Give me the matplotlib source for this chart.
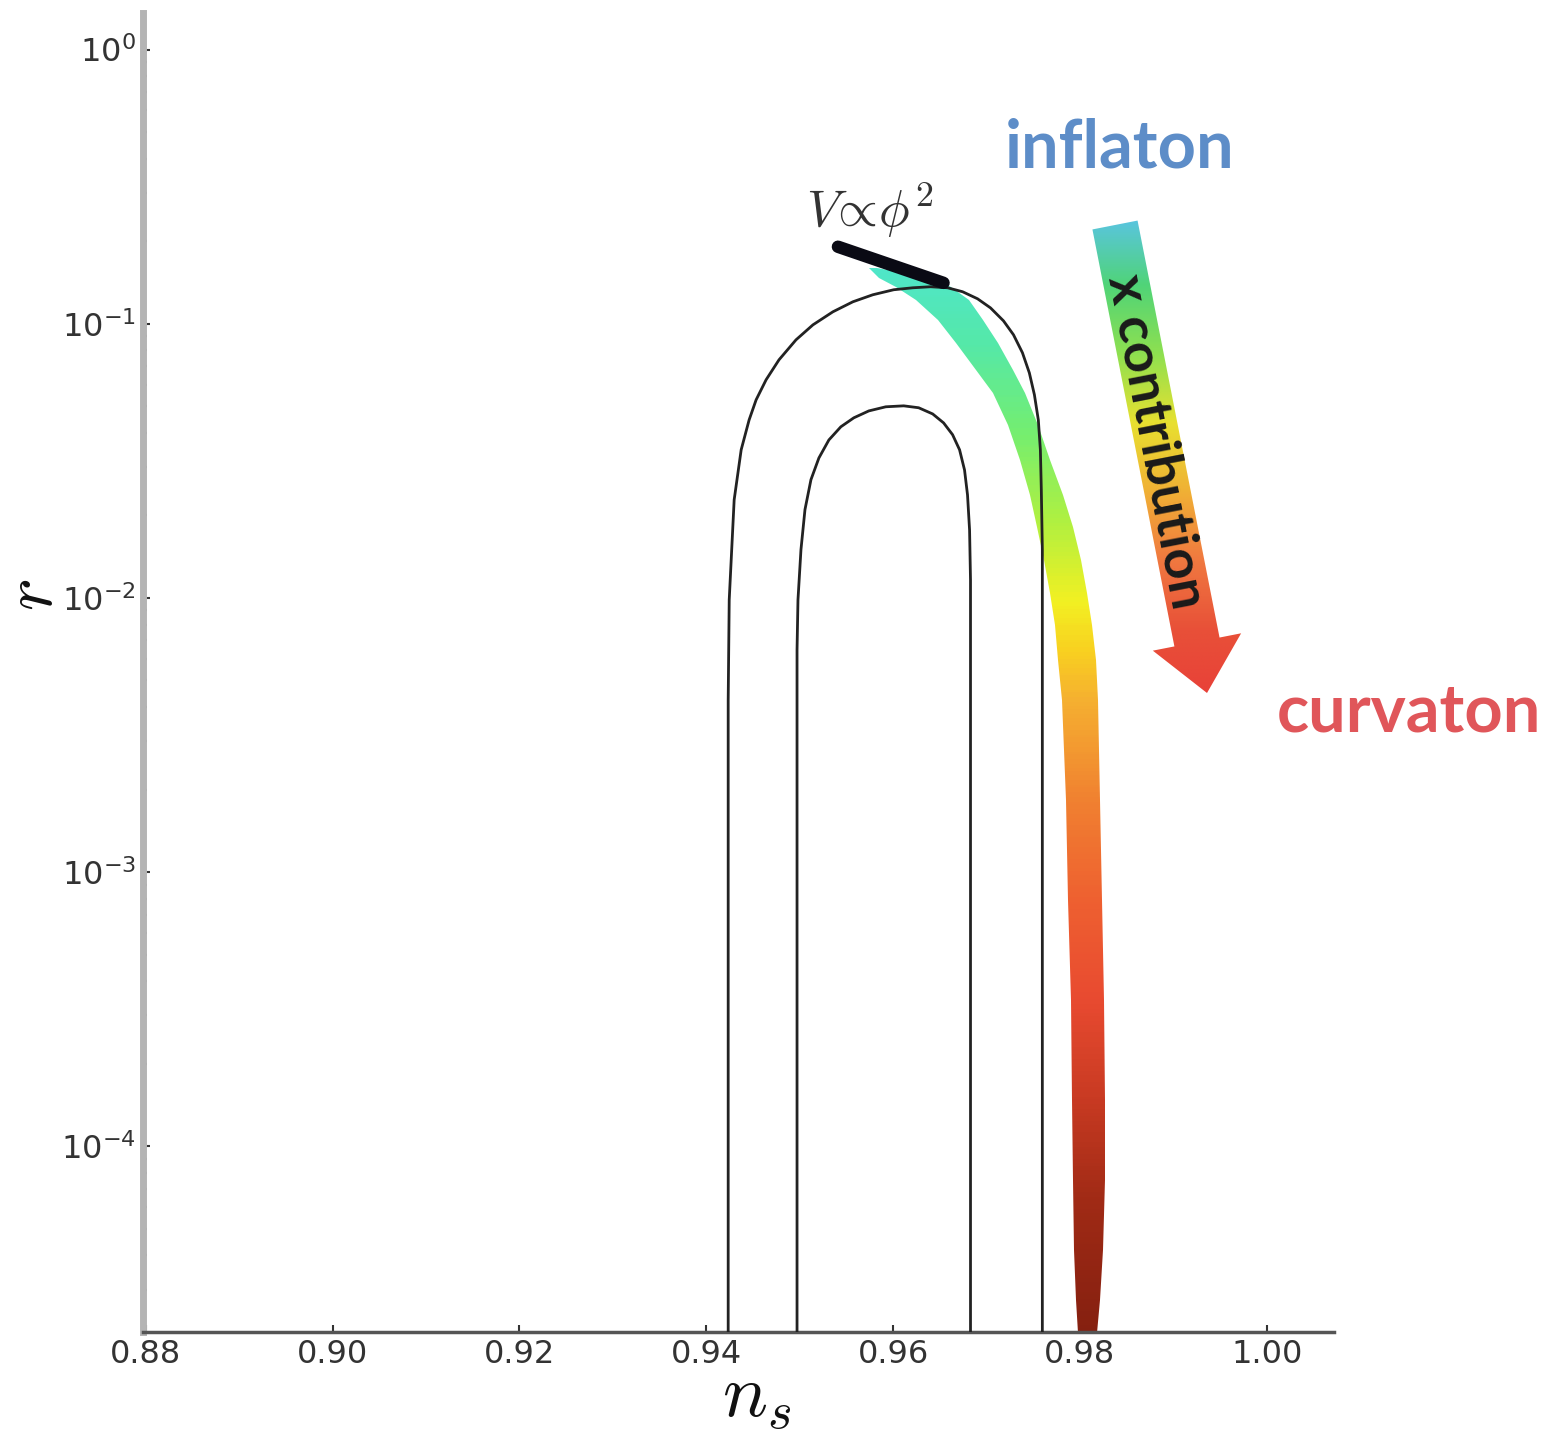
import numpy as np
import matplotlib.pyplot as plt
from matplotlib.colors import LinearSegmentedColormap
from matplotlib.patches import FancyArrow, Polygon
from matplotlib.ticker import FixedLocator, LogLocator, NullFormatter

plt.rcParams["mathtext.fontset"] = "cm"

# Observational contours in the (n_s, r) plane
OUTER_NS = [0.94235, 0.94235, 0.94246, 0.94299, 0.94374, 0.94459, 0.94534,
            0.94641, 0.94779, 0.94961, 0.95142, 0.95356, 0.95570, 0.95783,
            0.96007, 0.96210, 0.96402, 0.96584, 0.96744, 0.96904, 0.97043,
            0.97182, 0.97289, 0.97385, 0.97459, 0.97513, 0.97555, 0.97577,
            0.97587, 0.97598, 0.97598, 0.97598]
OUTER_R = [1e-5, 4.24e-3, 9.84e-3, 0.0228, 0.0347, 0.0446, 0.0528,
           0.0625, 0.0739, 0.0874, 0.0991, 0.1106, 0.1203, 0.1276,
           0.1331, 0.1353, 0.1365, 0.1353, 0.1309, 0.1234, 0.1143,
           0.1025, 0.0912, 0.0784, 0.0662, 0.0551, 0.0446, 0.0347,
           0.0248, 0.0150, 6.46e-3, 1e-5]

INNER_NS = [0.94972, 0.94972, 0.94982, 0.95014, 0.95057, 0.95121, 0.95206,
            0.95313, 0.95441, 0.95580, 0.95740, 0.95922, 0.96114, 0.96274,
            0.96424, 0.96541, 0.96637, 0.96712, 0.96765, 0.96797, 0.96819,
            0.96829, 0.96829, 0.96829]
INNER_R = [1e-5, 6.46e-3, 9.84e-3, 0.0150, 0.0210, 0.0270, 0.0324,
           0.0377, 0.0421, 0.0454, 0.0481, 0.0498, 0.0502, 0.0494,
           0.0469, 0.0435, 0.0394, 0.0347, 0.0293, 0.02376, 0.0177,
           0.01163, 6.46e-3, 1e-5]

# Mixed inflaton/curvaton predictions: r levels and n_s edges of the band
BAND_R = [0.1601, 0.1472, 0.1365, 0.1224, 0.1034, 0.0852, 0.0679, 0.0560,
          0.0428, 0.0319, 0.02376, 0.01815, 0.01376, 0.01042, 7.97e-3,
          5.94e-3, 4.24e-3, 1.83e-3, 7.90e-4, 3.41e-4, 1.47e-4, 7.51e-5,
          4.17e-5, 2.74e-5, 2.09e-5]
BAND_NS_LO = [0.95740, 0.95847, 0.96029, 0.96242, 0.96477, 0.96669, 0.96883,
              0.97075, 0.97235, 0.97363, 0.97470, 0.97545, 0.97620, 0.97684,
              0.97737, 0.97769, 0.97812, 0.97854, 0.97876, 0.97908, 0.97918,
              0.97929, 0.97940, 0.97961, 0.97982]
BAND_NS_HI = [0.95826, 0.96402, 0.96616, 0.96808, 0.96968, 0.97118, 0.97289,
              0.97417, 0.97555, 0.97684, 0.97822, 0.97929, 0.98015, 0.98079,
              0.98132, 0.98175, 0.98196, 0.98217, 0.98239, 0.98260, 0.98271,
              0.98271, 0.98249, 0.98217, 0.98185]

# Pure quadratic inflaton prediction
PHI2_NS = [0.9541, 0.9654]
PHI2_R = [0.191, 0.141]

X_TICKS = [0.88, 0.90, 0.92, 0.94, 0.96, 0.98, 1.00]
X_TICK_LABELS = ["0.88", "0.90", "0.92", "0.94", "0.96", "0.98", "1.00"]

# colour of the band as a function of log10 r
BAND_COLOR_LOGR = [-4.68, -4.20, -3.83, -3.47, -3.10, -2.74, -2.37, -2.19,
                   -2.01, -1.72, -1.39, -1.07, -0.80]
BAND_COLORS = ["#852010", "#a02a15", "#c83a22", "#e84a30", "#ee6030",
               "#f08030", "#f5b030", "#f8d020", "#f2f022", "#b0f040",
               "#74ee70", "#55e8a8", "#4fe6c8"]

ARROW_COLORS = ["#5ac4e6", "#50d478", "#8ee050", "#e8e030", "#f0b035",
                "#f07840", "#e85038", "#e84038"]


def band_cmap():
    lo, hi = BAND_COLOR_LOGR[0], BAND_COLOR_LOGR[-1]
    stops = [((v - lo) / (hi - lo), c) for v, c in zip(BAND_COLOR_LOGR, BAND_COLORS)]
    return LinearSegmentedColormap.from_list("band", stops), lo, hi


fig = plt.figure(figsize=(15.42, 14.32), dpi=100)
ax = fig.add_axes([0.0927, 0.0698, 0.7724, 0.9211])
ax.set_yscale("log")
ax.set_xlim(0.8797, 1.0072)
ax.set_ylim(2.1e-5, 1.36)

ax.plot(OUTER_NS, OUTER_R, color="#222222", lw=2.0, zorder=3)
ax.plot(INNER_NS, INNER_R, color="#222222", lw=2.0, zorder=3)

# colour band, shaded by log10 r and clipped to its outline
cmap, vlo, vhi = band_cmap()
outline = list(zip(BAND_NS_LO, BAND_R)) + list(zip(BAND_NS_HI, BAND_R))[::-1]
band = Polygon(outline, closed=True, facecolor="none", edgecolor="none")
ax.add_patch(band)
ys = np.logspace(-5, 0.2, 600)
xs = np.array([0.95, 0.99])
X, Y = np.meshgrid(xs, ys)
C = np.log10(np.sqrt(ys[:-1] * ys[1:])).reshape(-1, 1)
mesh = ax.pcolormesh(X, Y, C, cmap=cmap, vmin=vlo, vmax=vhi, zorder=2)
mesh.set_clip_path(band)

ax.plot(PHI2_NS, PHI2_R, color="#0a0a14", lw=9, solid_capstyle="round", zorder=4)

for side in ("top", "right"):
    ax.spines[side].set_visible(False)
ax.spines["left"].set_color("#b4b4b4")
ax.spines["left"].set_linewidth(5)
ax.spines["bottom"].set_color("#555555")
ax.spines["bottom"].set_linewidth(2.5)

ax.xaxis.set_major_locator(FixedLocator(X_TICKS))
ax.set_xticklabels(X_TICK_LABELS)
ax.yaxis.set_major_locator(LogLocator(base=10, numticks=10))
ax.yaxis.set_minor_locator(LogLocator(base=10, subs=np.arange(2, 10), numticks=10))
ax.yaxis.set_minor_formatter(NullFormatter())
ax.tick_params(axis="both", which="major", direction="in", length=5, width=1.5,
               colors="#333333", labelsize=23, pad=5)
ax.tick_params(axis="y", which="minor", direction="in", length=3, width=1.5,
               color="#333333")

ax.set_xlabel(r"$n_s$", fontsize=54, color="#111111", va="top")
ax.xaxis.set_label_coords(0.515, -0.021)
ax.set_ylabel(r"$r$", fontsize=50, rotation=90, color="#111111")
ax.yaxis.set_label_coords(-0.065, 0.559)

# annotation layer in figure pixel units
ov = fig.add_axes([0, 0, 1, 1])
ov.axis("off")

arrow = FancyArrow(1115, 225, 92, 468, width=46, head_width=90, head_length=52,
                   length_includes_head=True, edgecolor="none", facecolor="none")
ov.add_patch(arrow)
arrow_cmap = LinearSegmentedColormap.from_list("arrow", ARROW_COLORS)
grad = np.linspace(0, 1, 256).reshape(-1, 1)
im = ov.imshow(grad, extent=(1050, 1270, 700, 215), cmap=arrow_cmap, aspect="auto",
               interpolation="bilinear")
im.set_clip_path(arrow)
ov.set_xlim(0, 1542)
ov.set_ylim(1432, 0)

ov.text(1156, 442, "x contribution", rotation=-79, rotation_mode="anchor",
        ha="center", va="center", fontsize=39, family="Lato", weight="bold",
        color="#1a1a1a")
ov.text(1005, 148, "inflaton", ha="left", va="center", fontsize=48,
        family="Lato", weight="bold", color="#5d8dc8")
ov.text(1277, 712, "curvaton", ha="left", va="center", fontsize=48,
        family="Lato", weight="bold", color="#e0565a")
ov.text(806, 210, r"$V\!\propto\!\phi^2$", ha="left", va="center", fontsize=37,
        color="#333333")

fig.savefig("out.png", dpi=100)
